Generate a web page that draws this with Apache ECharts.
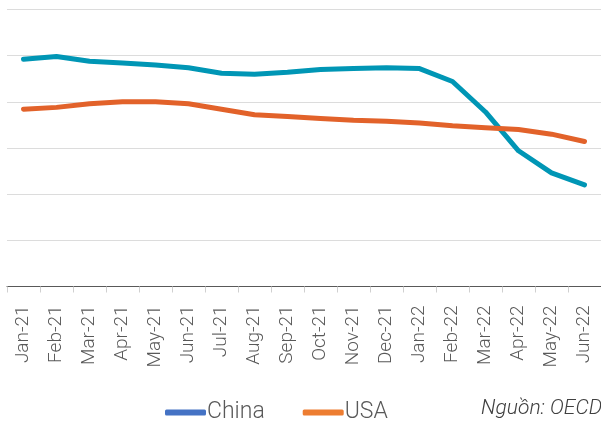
<!DOCTYPE html>
<html>
<head>
<meta charset="utf-8">
<script src="https://cdn.jsdelivr.net/npm/echarts@6/dist/echarts.min.js"></script>
<style>html,body{margin:0;padding:0;background:#fff}#c{width:601px;height:421px}</style>
</head>
<body>
<div id="c"></div>
<script>
var categories = ['Jan-21','Feb-21','Mar-21','Apr-21','May-21','Jun-21','Jul-21','Aug-21','Sep-21','Oct-21','Nov-21','Dec-21','Jan-22','Feb-22','Mar-22','Apr-22','May-22','Jun-22'];
var china = [101.46,101.49,101.44,101.42,101.40,101.37,101.31,101.30,101.32,101.35,101.36,101.37,101.36,101.22,100.89,100.47,100.23,100.10];
var usa = [100.92,100.94,100.98,101.00,101.00,100.98,100.92,100.86,100.84,100.82,100.80,100.79,100.77,100.74,100.72,100.70,100.65,100.57];
var yMin = 99, yMax = 102, yStep = 0.5;

var chart = echarts.init(document.getElementById('c'), null, {renderer: 'canvas'});
chart.setOption({
  animation: false,
  backgroundColor: '#ffffff',
  grid: {left: 7, right: -4, top: 9.5, bottom: 134.5, containLabel: false},
  xAxis: {
    type: 'category',
    data: categories,
    boundaryGap: true,
    axisLine: {lineStyle: {color: '#595959', width: 1}},
    axisTick: {show: true, length: 6, lineStyle: {color: '#d0d0d0'}},
    axisLabel: {rotate: 90, margin: 19, color: '#595959', fontFamily: 'Roboto', fontWeight: 300, fontSize: 19, interval: 0}
  },
  yAxis: {
    type: 'value', min: yMin, max: yMax, interval: yStep,
    axisLabel: {show: false}, axisLine: {show: false}, axisTick: {show: false},
    splitLine: {lineStyle: {color: '#dcdcdc', width: 1}}
  },
  legend: {
    left: 160, top: 396,
    itemWidth: 41, itemHeight: 6, itemGap: 38,
    icon: 'roundRect',
    textStyle: {fontFamily: 'Roboto', fontWeight: 300, fontSize: 23, color: '#595959', padding: [0,0,0,-4]},
    data: [
      {name: 'China', itemStyle: {color: '#4472c4'}},
      {name: 'USA', itemStyle: {color: '#ed7d31'}}
    ]
  },
  graphic: [{
    type: 'text', right: -1, top: 398,
    style: {text: 'Nguồn: OECD', font: 'italic 300 21px Roboto', fill: '#404040'}
  }],
  series: [
    {name: 'China', type: 'line', data: china, symbol: 'none', smooth: false,
     lineStyle: {color: '#0096b5', width: 5, cap: 'round', join: 'round'}, itemStyle: {color: '#4472c4'}},
    {name: 'USA', type: 'line', data: usa, symbol: 'none', smooth: false,
     lineStyle: {color: '#e2622a', width: 5, cap: 'round', join: 'round'}, itemStyle: {color: '#ed7d31'}}
  ]
});
</script>
</body>
</html>
